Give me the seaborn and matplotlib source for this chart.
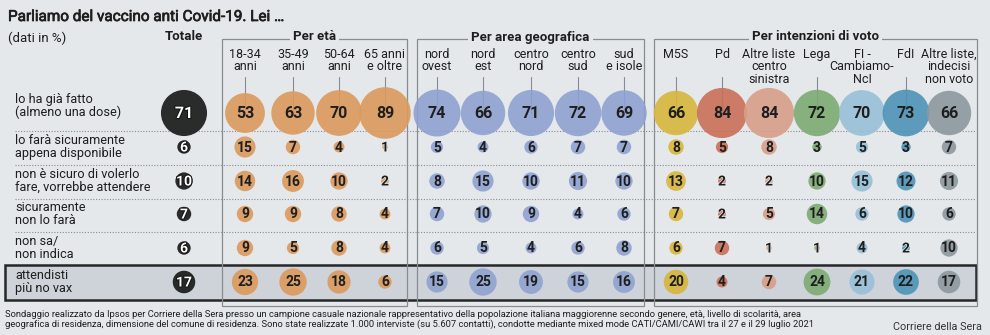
import matplotlib
matplotlib.use("Agg")
import matplotlib.pyplot as plt
import matplotlib.patheffects as pe
from matplotlib.patches import Rectangle
from matplotlib import font_manager as fm
import pandas as pd
import seaborn as sns

# ---------------- data ----------------
title = "Parliamo del vaccino anti Covid-19. Lei …"
subtitle = "(dati in %)"
row_labels = ["lo ha già fatto\n(almeno una dose)",
              "lo farà sicuramente\nappena disponibile",
              "non è sicuro di volerlo\nfare, vorrebbe attendere",
              "sicuramente\nnon lo farà",
              "non sa/\nnon indica",
              "attendisti\npiù no vax"]

group_labels = ["Totale", "Per età", "Per area geografica", "Per intenzioni di voto"]

tot_labels = ["Totale"]
eta_labels = ["18-34\nanni", "35-49\nanni", "50-64\nanni", "65 anni\ne oltre"]
geo_labels = ["nord\novest", "nord\nest", "centro\nnord", "centro\nsud", "sud\ne isole"]
voto_labels = ["M5S", "Pd", "Altre liste\ncentro\nsinistra", "Lega",
               "FI -\nCambiamo-\nNcI", "FdI", "Altre liste,\nindecisi\nnon voto"]

totale = [71, 6, 10, 7, 6, 17]
eta_18_34 = [53, 15, 14, 9, 9, 23]
eta_35_49 = [63, 7, 16, 9, 5, 25]
eta_50_64 = [70, 4, 10, 8, 8, 18]
eta_65 = [89, 1, 2, 4, 4, 6]
nord_ovest = [74, 5, 8, 7, 6, 15]
nord_est = [66, 4, 15, 10, 5, 25]
centro_nord = [71, 6, 10, 9, 4, 19]
centro_sud = [72, 7, 11, 4, 6, 15]
sud_isole = [69, 7, 10, 6, 8, 16]
m5s = [66, 8, 13, 7, 6, 20]
pd_ = [84, 5, 2, 2, 7, 4]
altre_cs = [84, 8, 2, 5, 1, 7]
lega = [72, 3, 10, 14, 1, 24]
fi = [70, 5, 15, 6, 4, 21]
fdi = [73, 3, 12, 10, 2, 22]
altre_ind = [66, 7, 11, 6, 10, 17]

footnote = ("Sondaggio realizzato da Ipsos per Corriere della Sera presso un campione casuale nazionale "
            "rappresentativo della popolazione italiana maggiorenne secondo genere, età, livello di scolarità, area\n"
            "geografica di residenza, dimensione del comune di residenza. Sono state realizzate 1.000 interviste "
            "(su 5.607 contatti), condotte mediante mixed mode CATI/CAMI/CAWI tra il 27 e il 29 luglio 2021")
source = "Corriere della Sera"

# ---------------- styles / layout ----------------
BG = "#e5e8eb"
HL = "#cdd3d8"
LINE = "#868c92"
TXT = "#1e1e1e"
C_TOT = "#161616"
C_ETA = "#dc9a5c"
C_GEO = "#8fa1d1"
C_VOTO = ["#d8b53b", "#c96f58", "#d89e8a", "#7cab73", "#98bfd7", "#4d93b6", "#8c989f"]

X_TOT = [184]
X_ETA = [245, 293, 339, 385]
X_GEO = [437, 483, 531, 578, 624]
X_VOTO = [676, 722, 769, 817, 862, 906, 949]
ROW_Y = [113, 147, 181, 214, 248, 282]

columns = []
columns += list(zip(tot_labels, [totale], X_TOT, [C_TOT]))
columns += list(zip(eta_labels, [eta_18_34, eta_35_49, eta_50_64, eta_65], X_ETA, [C_ETA] * 4))
columns += list(zip(geo_labels, [nord_ovest, nord_est, centro_nord, centro_sud, sud_isole], X_GEO, [C_GEO] * 5))
columns += list(zip(voto_labels, [m5s, pd_, altre_cs, lega, fi, fdi, altre_ind], X_VOTO, C_VOTO))

records = []
for lab, vals, x, col in columns:
    for r, v in enumerate(vals):
        records.append({"col": lab, "row": r, "value": v, "x": x, "y": ROW_Y[r]})
df = pd.DataFrame(records)
palette = {lab: col for lab, _, _, col in columns}

# ---------------- fonts ----------------
sns.set_theme(style="white")
plt.rcParams["font.family"] = ["Roboto", "DejaVu Sans"]
names = {f.name for f in fm.fontManager.ttflist}
if "Liberation Sans Narrow" in names:
    foot_font, foot_size = ["Liberation Sans Narrow", "DejaVu Sans"], 7.4
else:
    foot_font, foot_size = ["Roboto", "DejaVu Sans"], 6.75

# ---------------- figure ----------------
fig = plt.figure(figsize=(9.9, 3.35), dpi=100)
fig.patch.set_facecolor(BG)
ax = fig.add_axes([0, 0, 1, 1])
ax.set_facecolor(BG)

# highlighted last row
ax.add_patch(Rectangle((5, 265), 971, 35, facecolor=HL, edgecolor="#262626", lw=1.8, zorder=1))

# group boxes
boxes = [(222, 407, group_labels[1]), (417, 644, group_labels[2]), (654, 977, group_labels[3])]
for x0, x1, lab in boxes:
    ax.add_patch(Rectangle((x0, 39), x1 - x0, 267, facecolor="none", edgecolor=LINE, lw=0.9, zorder=2))
    ax.text((x0 + x1) / 2, 37, lab, ha="center", va="center", fontsize=9.5, fontweight="bold",
            color=TXT, zorder=3, bbox=dict(facecolor=BG, edgecolor="none", pad=2.5))
ax.text(X_TOT[0], 37, group_labels[0], ha="center", va="center", fontsize=9.5,
        fontweight="bold", color=TXT, zorder=3)

# dotted separators
for y in [131, 165, 199, 232]:
    ax.plot([15, 976], [y, y], ls=(0, (1, 1.5)), color=LINE, lw=0.8, zorder=2)

# column headers + connector ticks
for lab, vals, x, col in columns[1:]:
    ax.text(x, 48, lab, ha="center", va="top", fontsize=9, color=TXT, linespacing=0.95, zorder=3)
    if lab.count("\n") <= 1:
        ax.plot([x, x], [77, ROW_Y[0]], color=LINE, lw=0.8, zorder=2)

# bubbles
sns.scatterplot(data=df, x="x", y="y", hue="col", palette=palette, size="value",
                sizes=(15.5, 15.5 * 89), size_norm=(1, 89), legend=False,
                edgecolor="none", alpha=0.9, ax=ax, zorder=4)

# numbers
for rec in df.itertuples():
    is_tot = rec.col == tot_labels[0]
    fs = 11.5 if rec.row == 0 else 10
    if is_tot:
        eff = [pe.withStroke(linewidth=1.6, foreground=C_TOT)]
        color = "white"
    else:
        eff = [pe.withStroke(linewidth=0.9, foreground="#f2f2f2")] if rec.value <= 2 else None
        color = TXT
    ax.text(rec.x, rec.y + 0.5, f"{rec.value}", ha="center", va="center", fontsize=fs,
            fontweight="bold", color=color, zorder=5, path_effects=eff)

# row labels
for r, lab in enumerate(row_labels):
    y = 106 if r == 0 else ROW_Y[r]
    ax.text(15, y, lab, ha="left", va="center", fontsize=9.2, color=TXT, linespacing=0.95, zorder=3)

# titles
ax.text(8, 17, title, ha="left", va="center", fontsize=11, color=TXT,
        path_effects=[pe.withStroke(linewidth=0.5, foreground=TXT)])
ax.text(8, 38, subtitle, ha="left", va="center", fontsize=9.5, color=TXT)

# footnote
ax.text(5, 319.5, footnote, ha="left", va="center", fontsize=foot_size, family=foot_font,
        color=TXT, linespacing=1.0)
ax.text(982, 327, source, ha="right", va="center", fontsize=7.8, family=foot_font, color="#333333")

ax.set_xlim(0, 990)
ax.set_ylim(335, 0)
ax.axis("off")
fig.savefig("out.png", dpi=100, facecolor=BG)
